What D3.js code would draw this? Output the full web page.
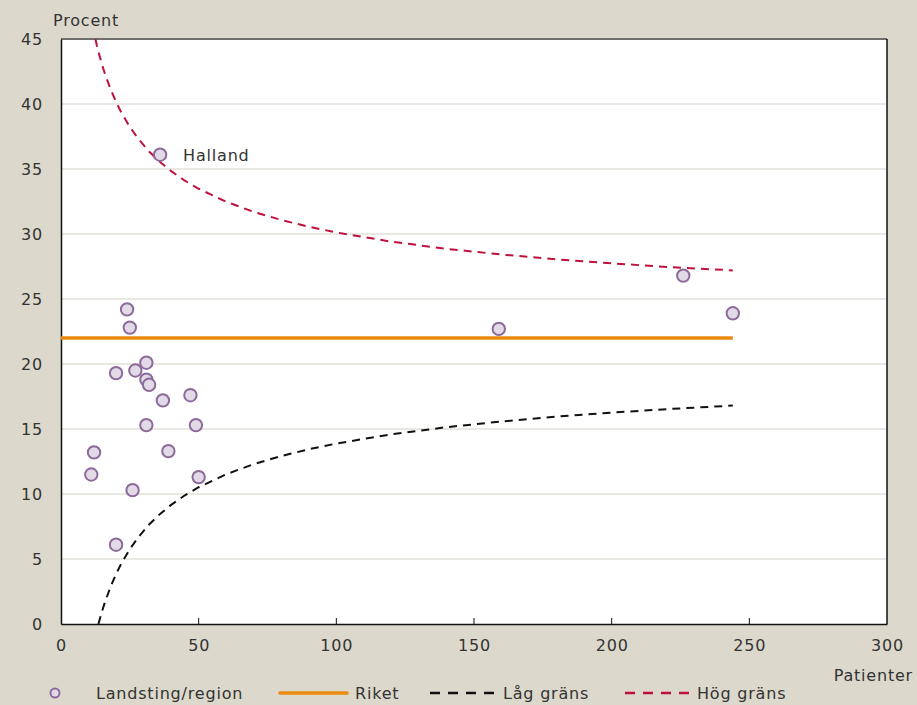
<!DOCTYPE html>
<html><head><meta charset="utf-8">
<script src="https://cdn.jsdelivr.net/npm/d3@7"></script>
<style>
body{margin:0;background:#dcd9cc;}
svg{display:block;font-family:"DejaVu Sans",sans-serif;}
svg text{letter-spacing:0.8px;}
</style></head><body>
<svg id="c" width="917" height="705"></svg>
<script>
// Data
const patients = [11, 12, 20, 20, 24, 25, 26, 27, 31, 31, 32, 31, 36, 37, 39, 47, 49, 50, 159, 226, 244];
const percent  = [11.5, 13.2, 19.3, 6.1, 24.2, 22.8, 10.3, 19.5, 20.1, 18.8, 18.4, 15.3, 36.1, 17.2, 13.3, 17.6, 15.3, 11.3, 22.7, 26.8, 23.9];
const labelNames = ["", "", "", "", "", "", "", "", "", "", "", "", "Halland", "", "", "", "", "", "", "", ""];
const riketX = [0, 244];
const riketY = [22, 22];
const highN = [12.5, 13, 14, 15, 16, 18, 20, 22, 25, 28, 32, 36, 40, 45, 50, 60, 70, 80, 90, 100, 120, 140, 160, 180, 200, 220, 244];
const highY = [45.0, 44.52, 43.70, 42.96, 42.30, 41.14, 40.16, 39.31, 38.24, 37.34, 36.35, 35.53, 34.84, 34.10, 33.48, 32.48, 31.70, 31.08, 30.56, 30.12, 29.41, 28.86, 28.42, 28.05, 27.74, 27.47, 27.20];
const lowN = [13.6, 14, 15, 16, 18, 20, 22, 25, 28, 32, 36, 40, 45, 50, 60, 70, 80, 90, 100, 120, 140, 160, 180, 200, 220, 244];
const lowY = [0.0, 0.30, 1.04, 1.70, 2.86, 3.84, 4.69, 5.76, 6.66, 7.65, 8.47, 9.16, 9.90, 10.52, 11.52, 12.30, 12.92, 13.44, 13.88, 14.59, 15.14, 15.58, 15.95, 16.26, 16.53, 16.80];
const xTicks = [0, 50, 100, 150, 200, 250, 300];
const yTicks = [0, 5, 10, 15, 20, 25, 30, 35, 40, 45];
const legendLabels = ["Landsting/region", "Riket", "Låg gräns", "Hög gräns"];

const svg = d3.select("#c");
const L = 61, R = 887, T = 39, B = 624;
const x = d3.scaleLinear().domain([0, 300]).range([L, R]);
const y = d3.scaleLinear().domain([0, 45]).range([B, T]);
const txt = "#333";
const fs = 16;

svg.append("rect").attr("x", L).attr("y", T).attr("width", R - L).attr("height", B - T).attr("fill", "#fff");

// gridlines
svg.append("g").selectAll("line").data(yTicks.filter(d => d > 0 && d < 45)).join("line")
  .attr("x1", L).attr("x2", R).attr("y1", d => y(d)).attr("y2", d => y(d))
  .attr("stroke", "#e3e1d8").attr("stroke-width", 1.5);

// borders
svg.append("line").attr("x1", L).attr("x2", R).attr("y1", T).attr("y2", T).attr("stroke", "#6e6e6a").attr("stroke-width", 2);
svg.append("line").attr("x1", R).attr("x2", R).attr("y1", T).attr("y2", B).attr("stroke", "#111").attr("stroke-width", 1.5);

// axes
const xAxis = d3.axisBottom(x).tickValues(xTicks).tickSize(0).tickPadding(16);
const gx = svg.append("g").attr("transform", `translate(0,${B})`).call(xAxis);
gx.select(".domain").attr("stroke", "#111").attr("stroke-width", 1.5);
gx.selectAll("text").attr("font-size", fs).attr("fill", txt).attr("font-family", "DejaVu Sans");
svg.append("g").selectAll("line").data(xTicks.filter(d => d > 0 && d < 300)).join("line")
  .attr("x1", d => x(d)).attr("x2", d => x(d)).attr("y1", B).attr("y2", B - 6)
  .attr("stroke", "#111").attr("stroke-width", 1);

const yAxis = d3.axisLeft(y).tickValues(yTicks).tickSize(0).tickPadding(18);
const gy = svg.append("g").attr("transform", `translate(${L},0)`).call(yAxis);
gy.select(".domain").attr("stroke", "#111").attr("stroke-width", 1.5);
gy.selectAll("text").attr("font-size", fs).attr("fill", txt).attr("font-family", "DejaVu Sans");

svg.append("text").attr("x", 53).attr("y", 26).attr("font-size", fs).attr("fill", txt).text("Procent");
svg.append("text").attr("x", 913).attr("y", 681).attr("text-anchor", "end").attr("font-size", fs).attr("fill", txt).text("Patienter");

// lines
const line = d3.line().x(d => x(d[0])).y(d => y(d[1]));
svg.append("path").datum(highN.map((n, i) => [n, highY[i]])).attr("d", line)
  .attr("fill", "none").attr("stroke", "#c0113d").attr("stroke-width", 2).attr("stroke-dasharray", "8,6");
svg.append("path").datum(lowN.map((n, i) => [n, lowY[i]])).attr("d", line)
  .attr("fill", "none").attr("stroke", "#111").attr("stroke-width", 2).attr("stroke-dasharray", "8,6");
svg.append("path").datum(riketX.map((n, i) => [n, riketY[i]])).attr("d", line)
  .attr("fill", "none").attr("stroke", "#ea8a0e").attr("stroke-width", 3.5);

// points
svg.append("g").selectAll("circle").data(patients.map((n, i) => [n, percent[i]])).join("circle")
  .attr("cx", d => x(d[0])).attr("cy", d => y(d[1])).attr("r", 6.2)
  .attr("fill", "#e2dae6").attr("stroke", "#8c6b9b").attr("stroke-width", 2);

svg.append("g").selectAll("text").data(patients.map((n, i) => [n, percent[i], labelNames[i]]).filter(d => d[2])).join("text")
  .attr("x", d => x(d[0]) + 23).attr("y", d => y(d[1]) + 6).attr("font-size", fs).attr("fill", txt).text(d => d[2]);

// legend
const ly = 693;
const lg = svg.append("g").attr("font-size", fs).attr("fill", txt);
lg.append("circle").attr("cx", 55).attr("cy", ly).attr("r", 4.5).attr("fill", "#e2dae6").attr("stroke", "#8c6b9b").attr("stroke-width", 2);
lg.append("text").attr("x", 96).attr("y", ly + 6).text(legendLabels[0]);
lg.append("line").attr("x1", 280).attr("x2", 347).attr("y1", ly).attr("y2", ly).attr("stroke", "#ea8a0e").attr("stroke-width", 3.5).attr("stroke-linecap", "round");
lg.append("text").attr("x", 355).attr("y", ly + 6).text(legendLabels[1]);
lg.append("line").attr("x1", 430).attr("x2", 494).attr("y1", ly).attr("y2", ly).attr("stroke", "#111").attr("stroke-width", 2.5).attr("stroke-dasharray", "10,8");
lg.append("text").attr("x", 503).attr("y", ly + 6).text(legendLabels[2]);
lg.append("line").attr("x1", 625).attr("x2", 689).attr("y1", ly).attr("y2", ly).attr("stroke", "#c0113d").attr("stroke-width", 2.5).attr("stroke-dasharray", "10,8");
lg.append("text").attr("x", 697).attr("y", ly + 6).text(legendLabels[3]);
</script>
</body></html>
